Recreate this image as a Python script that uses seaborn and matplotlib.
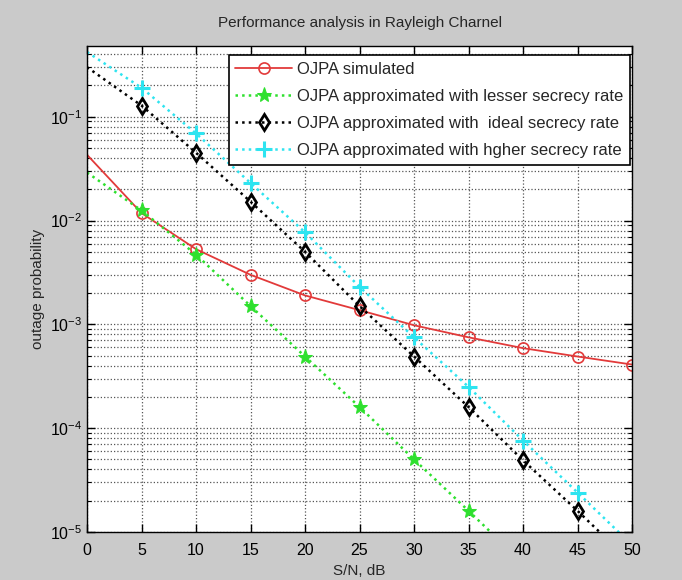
import numpy as np
import seaborn as sns
import matplotlib
matplotlib.use("Agg")
import matplotlib.pyplot as plt
from matplotlib.ticker import LogLocator, FixedLocator

sns.set_style("ticks")
plt.rcParams['font.family'] = ['Liberation Sans', 'DejaVu Sans']

# S/N grid in dB
snr = [0, 5, 10, 15, 20, 25, 30, 35, 40, 45, 50]
snr_lesser = [0, 5, 10, 15, 20, 25, 30, 35, 40]

# outage probability
p_simulated = [0.043, 0.0118, 0.0053, 0.0030, 0.0019, 0.00137, 0.00098, 0.00075, 0.00059, 0.00049, 0.00041]
p_lesser = [0.029, 0.0125, 0.0047, 0.0015, 0.00049, 0.00016, 0.00005, 0.000016, 0.000005]
p_ideal = [0.30, 0.128, 0.045, 0.0152, 0.0050, 0.0015, 0.00049, 0.00016, 0.000049, 0.000016, 0.000005]
p_higher = [0.42, 0.19, 0.069, 0.023, 0.0077, 0.0023, 0.00075, 0.00025, 0.000076, 0.000024, 0.0000075]

labels = ['OJPA simulated',
          'OJPA approximated with lesser secrecy rate',
          'OJPA approximated with  ideal secrecy rate',
          'OJPA approximated with hgher secrecy rate']

fig = plt.figure(figsize=(6.82, 5.80), dpi=100, facecolor='#cacaca')
ax = fig.add_axes([0.1276, 0.0828, 0.7991, 0.8379])
ax.set_facecolor('white')
ax.set_yscale('log')

sns.lineplot(x=snr, y=p_simulated, ax=ax, color='#e23a3a', linestyle='-', lw=1.3,
             marker='o', ms=8, mfc='none', mec='#e23a3a', mew=1.2,
             markevery=slice(1, None), label=labels[0])
sns.lineplot(x=snr_lesser, y=p_lesser, ax=ax, color='#2ee02e', linestyle=':', lw=1.8,
             marker='*', ms=11, mfc='#2ee02e', mec='#2ee02e',
             markevery=slice(1, None), label=labels[1])
sns.lineplot(x=snr, y=p_ideal, ax=ax, color='black', linestyle=':', lw=1.8,
             marker='d', ms=8, mfc='none', mec='black', mew=2.0,
             markevery=slice(1, None), label=labels[2])
sns.lineplot(x=snr, y=p_higher, ax=ax, color='#2ee4f0', linestyle=':', lw=1.8,
             marker='+', ms=12, mec='#2ee4f0', mew=2.2,
             markevery=slice(1, None), label=labels[3])

ax.set_xlim(0, 50)
ax.set_ylim(1e-5, 0.48)
ax.xaxis.set_major_locator(FixedLocator(snr))
ax.yaxis.set_major_locator(LogLocator(base=10, numticks=10))
ax.yaxis.set_minor_locator(LogLocator(base=10, subs=np.arange(2, 10), numticks=20))

ax.grid(True, which='major', axis='both', color='#555555', linestyle=':', lw=0.9)
ax.grid(True, which='minor', axis='y', color='#555555', linestyle=':', lw=0.9)
ax.tick_params(which='both', direction='in', top=True, right=True, labelsize=11.5, colors='black')
ax.tick_params(which='major', length=6, width=1)
ax.tick_params(which='minor', length=3, width=0.8)
ax.tick_params(axis='x', pad=8)
for s in ax.spines.values():
    s.set_color('black')
    s.set_linewidth(1.0)

ax.set_title('Performance analysis in Rayleigh Charnel', fontsize=11, pad=14)
ax.set_xlabel('S/N, dB', fontsize=11, labelpad=4)
ax.set_ylabel('outage probability', fontsize=11)
ax.yaxis.set_label_coords(-0.077, 0.5)

leg = ax.legend(loc='upper right', bbox_to_anchor=(0.996, 0.981), fontsize=12,
                frameon=True, fancybox=False, framealpha=1, edgecolor='black',
                handlelength=3.4, handletextpad=0.3, labelspacing=0.72, borderpad=0.4,
                borderaxespad=0)
leg.get_frame().set_linewidth(1.2)

fig.savefig('out.png', dpi=100, facecolor=fig.get_facecolor())
